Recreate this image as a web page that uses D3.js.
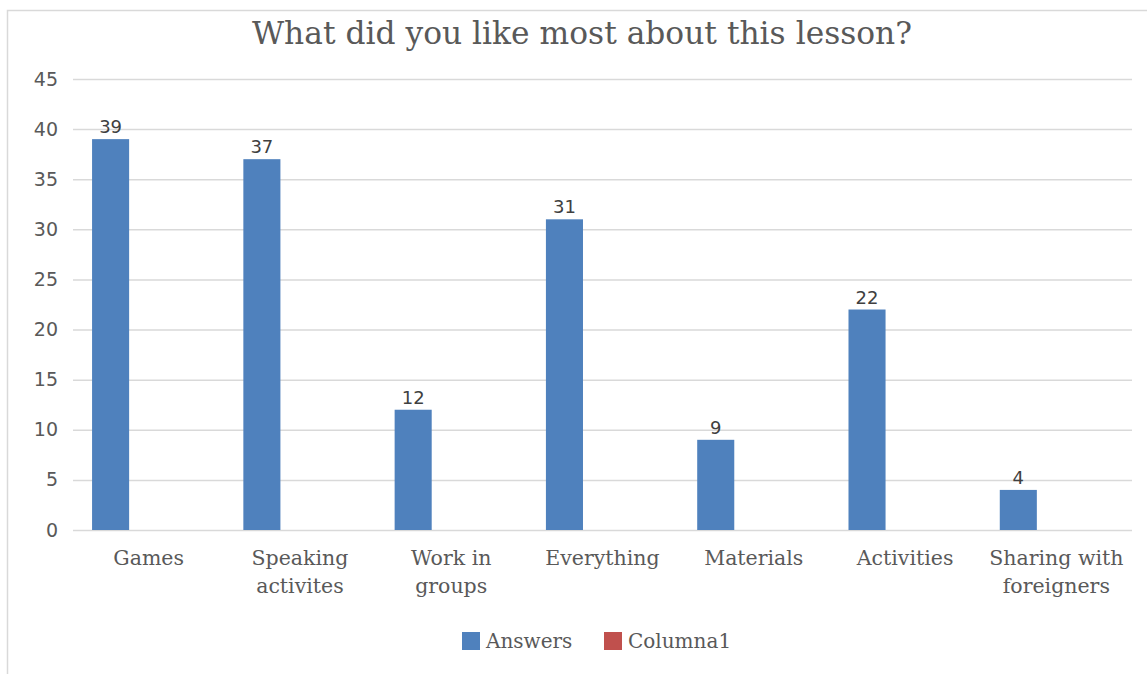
<!DOCTYPE html>
<html>
<head>
<meta charset="utf-8">
<script src="https://cdn.jsdelivr.net/npm/d3@7/dist/d3.min.js"></script>
<style>
  html, body { margin: 0; padding: 0; background: #fff; }
  svg { display: block; }
</style>
</head>
<body>
<svg id="chart" width="1147" height="674"></svg>
<script>
// Survey answers: what pupils liked most about the lesson
const categories = [
  ["Games"],
  ["Speaking", "activites"],
  ["Work in", "groups"],
  ["Everything"],
  ["Materials"],
  ["Activities"],
  ["Sharing with", "foreigners"]
];
const answers = [39, 37, 12, 31, 9, 22, 4];
const yTicks = [0, 5, 10, 15, 20, 25, 30, 35, 40, 45];
const legendItems = ["Answers", "Columna1"];

const W = 1147, H = 674;
const plot = { left: 73, right: 1132, top: 79, bottom: 530 };
const textColor = "#595959";
const serif = "'DejaVu Serif', 'Liberation Serif', serif";
const numFont = "'DejaVu Sans', 'Liberation Sans', sans-serif";
const colors = ["#4F81BD", "#C0504D"];

const svg = d3.select("#chart");

// chart frame
svg.append("rect")
  .attr("x", 7.5).attr("y", 10.5)
  .attr("width", W + 20).attr("height", H + 20)
  .attr("fill", "#fff").attr("stroke", "#d9d9d9").attr("stroke-width", 1.5);

const x = d3.scaleBand()
  .domain(d3.range(categories.length))
  .range([plot.left, plot.right])
  .paddingInner(0).paddingOuter(0);

const y = d3.scaleLinear().domain([0, 45]).range([plot.bottom, plot.top]);

// gridlines + y labels
const yAxis = d3.axisLeft(y)
  .tickValues(yTicks)
  .tickSize(-(plot.right - plot.left))
  .tickPadding(15);
const gy = svg.append("g")
  .attr("transform", `translate(${plot.left},0)`)
  .call(yAxis);
gy.select(".domain").remove();
gy.selectAll(".tick line").attr("stroke", "#d9d9d9").attr("stroke-width", 1.5);
gy.selectAll(".tick text")
  .attr("fill", textColor)
  .style("font-family", numFont)
  .style("font-size", "19px");

// bars (first of three slots in each category)
const slot = x.bandwidth() * 0.245;
const offset = x.bandwidth() * 0.126;
svg.append("g").selectAll("rect")
  .data(answers)
  .join("rect")
  .attr("x", (d, i) => x(i) + offset)
  .attr("width", slot)
  .attr("y", d => y(d))
  .attr("height", d => y(0) - y(d))
  .attr("fill", colors[0]);

// value labels
svg.append("g").selectAll("text")
  .data(answers)
  .join("text")
  .attr("x", (d, i) => x(i) + offset + slot / 2)
  .attr("y", d => y(d) - 6)
  .attr("text-anchor", "middle")
  .attr("fill", "#404040")
  .style("font-family", numFont)
  .style("font-size", "18px")
  .text(d => d);

// category labels
const cat = svg.append("g").selectAll("text")
  .data(categories)
  .join("text")
  .attr("text-anchor", "middle")
  .attr("fill", textColor)
  .style("font-family", serif)
  .style("font-size", "20.5px");
cat.each(function (lines, i) {
  d3.select(this).selectAll("tspan")
    .data(lines)
    .join("tspan")
    .attr("x", x(i) + x.bandwidth() / 2)
    .attr("y", (l, j) => 565 + j * 28)
    .text(l => l);
});

// title
svg.append("text")
  .attr("x", 582).attr("y", 44)
  .attr("text-anchor", "middle")
  .attr("fill", textColor)
  .style("font-family", serif)
  .style("font-size", "31.3px")
  .text("What did you like most about this lesson?");

// legend
const legendX = [462, 604];
const lg = svg.append("g").selectAll("g")
  .data(legendItems)
  .join("g")
  .attr("transform", (d, i) => `translate(${legendX[i]},632)`);
lg.append("rect").attr("width", 18).attr("height", 18)
  .attr("fill", (d, i) => colors[i]);
lg.append("text")
  .attr("x", 24).attr("y", 16)
  .attr("fill", textColor)
  .style("font-family", serif)
  .style("font-size", "20px")
  .text(d => d);
</script>
</body>
</html>
